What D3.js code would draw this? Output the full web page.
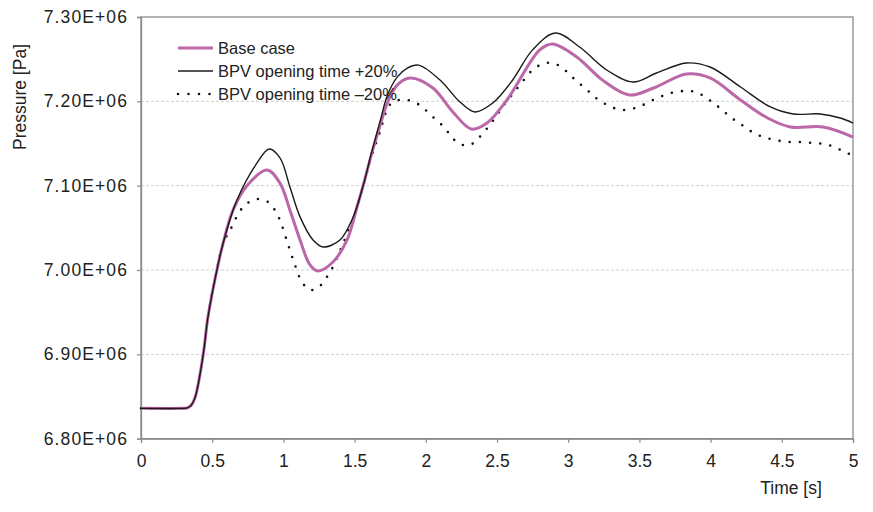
<!DOCTYPE html>
<html>
<head>
<meta charset="utf-8">
<script src="https://cdn.jsdelivr.net/npm/d3@7"></script>
<style>
  html, body { margin: 0; padding: 0; background: #fff; }
  svg { display: block; font-family: "Liberation Sans", Arial, Helvetica, sans-serif; }
</style>
</head>
<body>
<svg id="chart" width="873" height="512"></svg>
<script>
// Pressure history, three cases (time in s, pressure in Pa)
const timeBase = [0, 0.30, 0.32, 0.35, 0.38, 0.437, 0.47, 0.533, 0.577, 0.646, 0.744, 0.885, 0.976, 1.046, 1.117, 1.187, 1.243, 1.348, 1.447, 1.517, 1.56, 1.62, 1.68, 1.73, 1.80, 1.89, 2.05, 2.19, 2.32, 2.43, 2.57, 2.80, 2.89, 3.06, 3.24, 3.43, 3.60, 3.83, 3.996, 4.21, 4.40, 4.56, 4.79, 5.0];
const pBase = [6.836e6, 6.836e6, 6.8363e6, 6.8392e6, 6.849e6, 6.900e6, 6.944e6, 7.000e6, 7.032e6, 7.071e6, 7.100e6, 7.1186e6, 7.103e6, 7.071e6, 7.0356e6, 7.006e6, 6.9988e6, 7.0095e6, 7.0356e6, 7.0747e6, 7.100e6, 7.138e6, 7.172e6, 7.198e6, 7.2195e6, 7.2277e6, 7.2158e6, 7.1874e6, 7.1672e6, 7.1743e6, 7.2016e6, 7.2609e6, 7.268e6, 7.2526e6, 7.2253e6, 7.2075e6, 7.2158e6, 7.2324e6, 7.2277e6, 7.2016e6, 7.1802e6, 7.1696e6, 7.1696e6, 7.1577e6];

const timePlus = [0, 0.30, 0.32, 0.35, 0.38, 0.437, 0.47, 0.533, 0.577, 0.674, 0.815, 0.90, 0.976, 1.046, 1.117, 1.208, 1.278, 1.397, 1.49, 1.56, 1.62, 1.68, 1.73, 1.80, 1.87, 1.95, 2.10, 2.24, 2.345, 2.47, 2.61, 2.75, 2.91, 3.08, 3.27, 3.455, 3.62, 3.83, 3.996, 4.21, 4.42, 4.58, 4.77, 4.91, 5.0];
const pPlus = [6.836e6, 6.836e6, 6.8363e6, 6.8392e6, 6.849e6, 6.900e6, 6.944e6, 7.000e6, 7.032e6, 7.083e6, 7.127e6, 7.1435e6, 7.133e6, 7.0984e6, 7.063e6, 7.0356e6, 7.0273e6, 7.0356e6, 7.063e6, 7.100e6, 7.140e6, 7.177e6, 7.207e6, 7.229e6, 7.2395e6, 7.243e6, 7.2253e6, 7.1992e6, 7.1874e6, 7.198e6, 7.2253e6, 7.261e6, 7.281e6, 7.2644e6, 7.2372e6, 7.2229e6, 7.2336e6, 7.2455e6, 7.2407e6, 7.217e6, 7.1933e6, 7.185e6, 7.185e6, 7.1802e6, 7.1743e6];

const timeMinus = [0, 0.30, 0.32, 0.35, 0.38, 0.437, 0.47, 0.533, 0.577, 0.625, 0.695, 0.75, 0.82, 0.89, 0.94, 0.976, 1.025, 1.074, 1.13, 1.187, 1.25, 1.30, 1.34, 1.404, 1.46, 1.49, 1.56, 1.62, 1.68, 1.72, 1.76, 1.83, 1.90, 1.966, 2.02, 2.08, 2.135, 2.18, 2.24, 2.31, 2.37, 2.42, 2.47, 2.56, 2.655, 2.75, 2.82, 2.89, 2.96, 3.02, 3.075, 3.14, 3.195, 3.25, 3.32, 3.39, 3.47, 3.54, 3.61, 3.68, 3.75, 3.83, 3.90, 3.97, 4.03, 4.09, 4.15, 4.21, 4.28, 4.35, 4.42, 4.49, 4.56, 4.64, 4.72, 4.80, 4.87, 4.94, 5.0];
const pMinus = [6.836e6, 6.836e6, 6.8363e6, 6.8392e6, 6.849e6, 6.900e6, 6.944e6, 7.000e6, 7.032e6, 7.047e6, 7.070e6, 7.0795e6, 7.0842e6, 7.081e6, 7.071e6, 7.059e6, 7.0344e6, 7.0095e6, 6.9858e6, 6.9763e6, 6.980e6, 6.9905e6, 7.0012e6, 7.025e6, 7.0486e6, 7.0593e6, 7.100e6, 7.135e6, 7.165e6, 7.187e6, 7.198e6, 7.202e6, 7.2004e6, 7.1945e6, 7.1862e6, 7.1767e6, 7.1684e6, 7.1577e6, 7.1494e6, 7.1482e6, 7.1565e6, 7.166e6, 7.1767e6, 7.198e6, 7.2182e6, 7.2372e6, 7.2443e6, 7.2455e6, 7.2395e6, 7.230e6, 7.2217e6, 7.2123e6, 7.204e6, 7.198e6, 7.1921e6, 7.1897e6, 7.1921e6, 7.1968e6, 7.2028e6, 7.2075e6, 7.211e6, 7.2123e6, 7.211e6, 7.204e6, 7.1968e6, 7.1885e6, 7.180e6, 7.1731e6, 7.1648e6, 7.1589e6, 7.1553e6, 7.153e6, 7.1518e6, 7.1518e6, 7.1506e6, 7.1494e6, 7.1459e6, 7.140e6, 7.136e6];

const xTicks = [0, 0.5, 1, 1.5, 2, 2.5, 3, 3.5, 4, 4.5, 5];
const xTickLabels = ["0", "0.5", "1", "1.5", "2", "2.5", "3", "3.5", "4", "4.5", "5"];
const yTicks = [6.80e6, 6.90e6, 7.00e6, 7.10e6, 7.20e6, 7.30e6];
const yTickLabels = ["6.80E+06", "6.90E+06", "7.00E+06", "7.10E+06", "7.20E+06", "7.30E+06"];
const seriesNames = ["Base case", "BPV opening time +20%", "BPV opening time \u201320%"];

const svg = d3.select("#chart");
const W = 873, H = 512;
const plot = { left: 141, right: 853, top: 17, bottom: 438.7 };

svg.append("rect").attr("width", W).attr("height", H).attr("fill", "#fff");

const x = d3.scaleLinear().domain([0, 5]).range([plot.left, plot.right]);
const y = d3.scaleLinear().domain([6.80e6, 7.30e6]).range([plot.bottom, plot.top]);

// horizontal grid lines
svg.append("g")
  .selectAll("line")
  .data(yTicks.slice(1, -1))
  .join("line")
  .attr("x1", plot.left).attr("x2", plot.right)
  .attr("y1", d => y(d)).attr("y2", d => y(d))
  .attr("stroke", "#cfcfcf").attr("stroke-width", 1)
  .attr("stroke-dasharray", "3,2");

// plot frame
svg.append("rect")
  .attr("x", plot.left).attr("y", plot.top)
  .attr("width", plot.right - plot.left).attr("height", plot.bottom - plot.top)
  .attr("fill", "none").attr("stroke", "#8a8a8a").attr("stroke-width", 1.3);

// axes
const yAxis = d3.axisLeft(y).tickValues(yTicks)
  .tickFormat((d, i) => yTickLabels[i]).tickSize(4).tickPadding(9);
const gy = svg.append("g").attr("transform", `translate(${plot.left},0)`).call(yAxis);

const xAxis = d3.axisBottom(x).tickValues(xTicks)
  .tickFormat((d, i) => xTickLabels[i]).tickSize(4).tickPadding(12);
const gx = svg.append("g").attr("transform", `translate(0,${plot.bottom})`).call(xAxis);

[gx, gy].forEach(g => {
  g.select(".domain").attr("stroke", "#8a8a8a").attr("stroke-width", 1.3);
  g.selectAll(".tick line").attr("stroke", "#8a8a8a").attr("stroke-width", 1.2);
  g.selectAll(".tick text")
    .attr("fill", "#222")
    .style("font-size", "17.5px")
    .style("font-family", "'Liberation Sans', Arial, sans-serif");
});
gy.selectAll(".tick text").style("letter-spacing", "1.1px");

// axis titles
svg.append("text")
  .attr("transform", "translate(26,97) rotate(-90)")
  .attr("text-anchor", "middle")
  .attr("fill", "#222")
  .style("font-size", "17.5px")
  .text("Pressure [Pa]");

svg.append("text")
  .attr("x", 791).attr("y", 494)
  .attr("text-anchor", "middle")
  .attr("fill", "#222")
  .style("font-size", "17.5px")
  .text("Time [s]");

// series lines
const line = d3.line()
  .x(d => x(d[0])).y(d => y(d[1]))
  .curve(d3.curveCatmullRom.alpha(0.5));

const pinkColor = "#bb67a8";
const series = [
  { t: timeBase, p: pBase, stroke: pinkColor, width: 3, dash: null },
  { t: timePlus, p: pPlus, stroke: "#1a1a1a", width: 1.4, dash: null },
  { t: timeMinus, p: pMinus, stroke: "#111", width: 2.6, dash: "0 10.2" }
];

const lines = svg.append("g");
[series[2], series[0], series[1]].forEach(s => {
  const pts = s.t.map((t, i) => [t, s.p[i]]);
  const path = lines.append("path")
    .datum(pts)
    .attr("d", line)
    .attr("fill", "none")
    .attr("stroke", s.stroke)
    .attr("stroke-width", s.width)
    .attr("stroke-linejoin", "round");
  if (s.dash) path.attr("stroke-dasharray", s.dash).attr("stroke-linecap", "round");
});

// legend
const legend = svg.append("g");
const legendY = [48, 71, 94];
series.forEach((s, i) => {
  const ly = legendY[i];
  const l = legend.append("line")
    .attr("x1", 178).attr("x2", 213)
    .attr("y1", ly).attr("y2", ly)
    .attr("stroke", s.stroke)
    .attr("stroke-width", s.width);
  if (s.dash) l.attr("stroke-dasharray", "0 10.5").attr("stroke-linecap", "round");
  legend.append("text")
    .attr("x", 218).attr("y", ly + 6)
    .attr("fill", "#222")
    .style("font-size", "16.5px")
    .text(seriesNames[i]);
});
</script>
</body>
</html>
